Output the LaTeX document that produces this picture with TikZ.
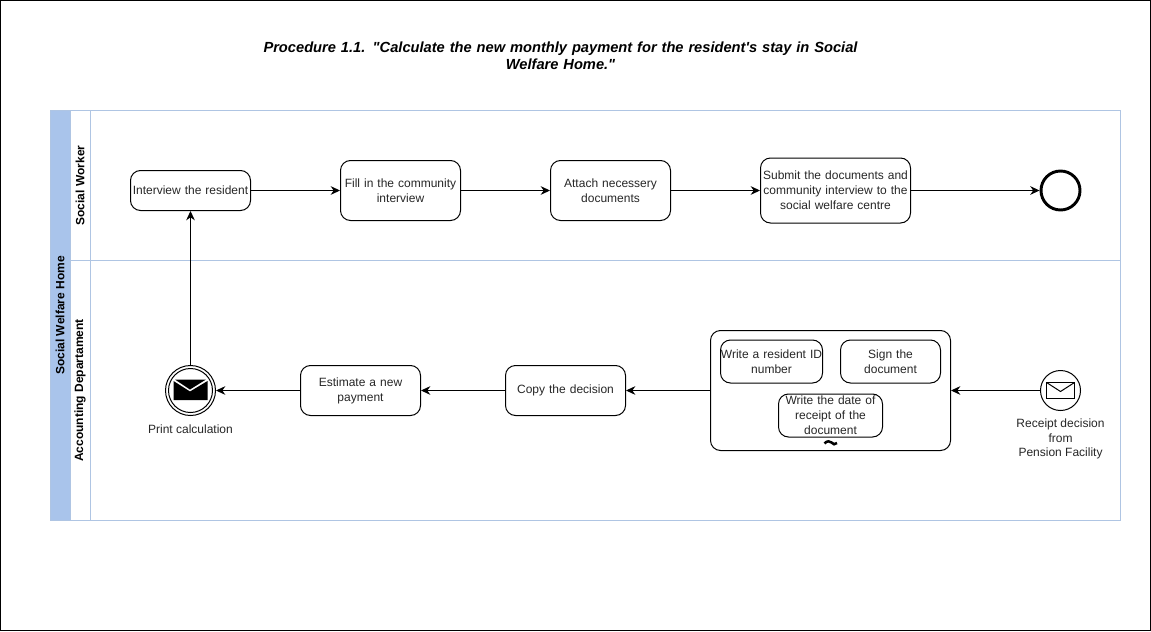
\documentclass[tikz,border=0pt]{standalone}
\usepackage{fontspec}
\setmainfont{Liberation Sans}
\newfontfamily\plainsans{Liberation Sans}
\usetikzlibrary{arrows.meta}
\definecolor{laneblue}{HTML}{A9C4EB}
\definecolor{laneline}{HTML}{AFC5E3}
\tikzset{
  x=0.75pt,y=-0.75pt,
  lane/.style={draw=laneline,line width=0.8pt},
  task/.style={draw=black,line width=0.75pt,rounded corners=7.5pt,align=center,font=\fontsize{9}{11.2}\selectfont,inner sep=0pt,text=black!85},
  tsize/.style 2 args={minimum width=#1*0.75pt,minimum height=#2*0.75pt,text width=#1*0.75pt},
  flow/.style={draw=black,line width=0.75pt,-{Stealth[length=7pt,width=6.5pt]}},
  lanelabel/.style={rotate=90,font=\fontsize{9}{11}\selectfont\bfseries,inner sep=0pt},
  evlabel/.style={align=center,font=\fontsize{9}{11}\selectfont,inner sep=0pt,text=black!85},
}
\begin{document}
\begin{tikzpicture}
\useasboundingbox (0,0) rectangle (1151,631);
\draw[black,line width=0.75pt] (0.5,0.5) rectangle (1150.5,630.5);
\node[align=center,font=\plainsans\fontsize{11}{12.9}\selectfont\bfseries\itshape,text width=640*0.75pt,inner sep=0pt] (title) at (560.5,56) {Procedure 1.1. "Calculate the new monthly payment for the resident's stay in Social\\Welfare Home."};
% pool
\fill[laneblue] (50.5,110.5) rectangle (70.5,520.5);
\draw[lane] (50.5,110.5) rectangle (1120.5,520.5);
\draw[lane] (70.5,110.5) -- (70.5,520.5);
\draw[lane] (90.5,110.5) -- (90.5,520.5);
\draw[lane] (70.5,260.5) -- (1120.5,260.5);
\node[lanelabel] (pool) at (60,315.5) {Social Welfare Home};
\node[lanelabel] (l1) at (80,185.5) {Social Worker};
\node[lanelabel] (l2) at (80,390.5) {Accounting Departament};
% top row
\node[task,tsize={120}{40}] (t1) at (190.5,190.5) {Interview the resident};
\node[task,tsize={120}{60}] (t2) at (400.5,190.5) {Fill in the community\\interview};
\node[task,tsize={120}{60}] (t3) at (610.5,190.5) {Attach necessery\\documents};
\node[task,tsize={150}{65}] (t4) at (835.5,190.5) {Submit the documents and\\community interview to the\\social welfare centre};
\node[draw=black,line width=2.2pt,circle,minimum size=39*0.75pt,inner sep=0pt] (end) at (1060.5,190.5) {};
% bottom row
\node[draw=black,line width=0.75pt,circle,minimum size=50*0.75pt,inner sep=0pt] (print) at (190.5,390.5) {};
\node[draw=black,line width=0.75pt,circle,minimum size=44*0.75pt,inner sep=0pt] (printin) at (190.5,390.5) {};
\fill[black] (173.5,381) -- (190,391.5) -- (207.5,381) -- (207.5,400) -- (173.5,400) -- cycle;
\fill[black] (175,379.5) -- (206,379.5) -- (190,389.5) -- cycle;
\node[evlabel] (printl) at (190.5,429.5) {Print calculation};
\node[task,tsize={120}{50}] (t5) at (360.5,390.5) {Estimate a new\\payment};
\node[task,tsize={120}{50}] (t6) at (565.5,390.5) {\raisebox{-0.75pt}{Copy the decision}};
\node[draw=black,line width=0.75pt,rounded corners=7.5pt,minimum width=240*0.75pt,minimum height=120*0.75pt,inner sep=0pt] (sub) at (830.5,390.5) {};
\node[task,tsize={102}{43}] (s1) at (771.5,361.5) {Write a resident ID\\number};
\node[task,tsize={100}{43}] (s2) at (890.5,361.5) {Sign the\\document};
\node[task,tsize={104}{43}] (s3) at (830.5,415.5) {Write the date of\\receipt of the\\document};
\draw[line width=1.9pt] (824.5,443.5) .. controls (827,440.5) and (830,441) .. (831.5,442.5) .. controls (833,444.5) and (835,445) .. (837,443);
\node[draw=black,line width=0.75pt,circle,minimum size=40*0.75pt,inner sep=0pt] (start) at (1060.5,390.5) {};
\draw[black,line width=0.75pt] (1046.5,382.5) rectangle (1074.5,398.5);
\draw[black,line width=0.75pt] (1046.5,382.5) -- (1060.5,391.5) -- (1074.5,382.5);
\node[evlabel] (startl) at (1060.5,439) {Receipt decision\\from\\Pension Facility};
% connectors
\draw[flow] (t1) -- (t2);
\draw[flow] (t2) -- (t3);
\draw[flow] (t3) -- (t4);
\draw[flow] (t4) -- (end);
\draw[flow] (start) -- (sub);
\draw[flow] (sub) -- (t6);
\draw[flow] (t6) -- (t5);
\draw[flow] (t5) -- (print);
\draw[flow] (print) -- (t1);
\end{tikzpicture}
\end{document}
